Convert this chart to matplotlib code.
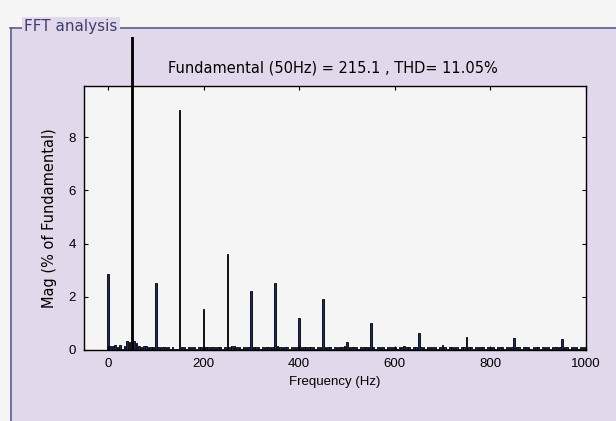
import numpy as np
import matplotlib
matplotlib.use('Agg')
from matplotlib import pyplot
from matplotlib.patches import Rectangle
from matplotlib.lines import Line2D
from matplotlib.transforms import Bbox, TransformedBbox

pyplot.rcParams['font.family'] = ['Liberation Sans', 'DejaVu Sans']

# spectrum bins, 5 Hz resolution, one row per 50 Hz
freq_step = 5
mag = [
    2.85, 0.15, 0.15, 0.2, 0.1, 0.2, 0.05, 0.15, 0.35, 0.3,      # 0
    100.0, 0.35, 0.25, 0.15, 0.1, 0.15, 0.15, 0.1, 0.1, 0.1,     # 50
    2.5, 0.1, 0.1, 0.1, 0.1, 0.1, 0.05, 0.1, 0.05, 0.05,         # 100
    9.0, 0.1, 0.1, 0.05, 0.1, 0.1, 0.1, 0.05, 0.1, 0.1,          # 150
    1.55, 0.1, 0.1, 0.1, 0.1, 0.1, 0.1, 0.1, 0.05, 0.1,          # 200
    3.6, 0.1, 0.15, 0.15, 0.1, 0.1, 0.05, 0.1, 0.1, 0.1,         # 250
    2.2, 0.1, 0.1, 0.1, 0.05, 0.1, 0.1, 0.1, 0.1, 0.1,           # 300
    2.5, 0.15, 0.1, 0.1, 0.1, 0.1, 0.05, 0.1, 0.1, 0.1,          # 350
    1.2, 0.1, 0.1, 0.1, 0.1, 0.1, 0.1, 0.05, 0.1, 0.1,           # 400
    1.9, 0.1, 0.1, 0.1, 0.05, 0.1, 0.1, 0.1, 0.1, 0.15,          # 450
    0.3, 0.1, 0.1, 0.1, 0.1, 0.05, 0.1, 0.1, 0.1, 0.1,           # 500
    1.0, 0.1, 0.05, 0.1, 0.1, 0.1, 0.05, 0.1, 0.1, 0.1,          # 550
    0.1, 0.05, 0.1, 0.1, 0.15, 0.1, 0.1, 0.05, 0.1, 0.1,         # 600
    0.65, 0.1, 0.1, 0.05, 0.1, 0.1, 0.1, 0.1, 0.05, 0.1,         # 650
    0.2, 0.1, 0.05, 0.1, 0.1, 0.1, 0.1, 0.05, 0.1, 0.1,          # 700
    0.5, 0.1, 0.1, 0.05, 0.1, 0.1, 0.1, 0.1, 0.05, 0.1,          # 750
    0.1, 0.1, 0.05, 0.1, 0.1, 0.1, 0.05, 0.1, 0.1, 0.1,          # 800
    0.45, 0.1, 0.1, 0.05, 0.1, 0.1, 0.1, 0.05, 0.1, 0.1,         # 850
    0.1, 0.05, 0.1, 0.1, 0.1, 0.05, 0.1, 0.1, 0.1, 0.1,          # 900
    0.4, 0.1, 0.1, 0.05, 0.1, 0.1, 0.1, 0.05, 0.1, 0.1,          # 950
    0.1,                                                          # 1000
]
freqs = np.arange(len(mag)) * freq_step
fund_freq = 50
title_str = 'Fundamental (50Hz) = 215.1 , THD= 11.05%'
xticks = [0, 200, 400, 600, 800, 1000]
yticks = [0, 2, 4, 6, 8]

panel_col = '#e1d9eb'
border_col = '#5b5f8c'

fig = pyplot.figure(figsize=(6.16, 4.21), dpi=100)
fig.patch.set_facecolor('#f5f5f5')

# panel background + frame
H = 421.0
W = 616.0
fig.patches.append(Rectangle((10 / W, 0), 1, (H - 28) / H, transform=fig.transFigure,
                             facecolor=panel_col, edgecolor='none', zorder=-10))
fig.lines.append(Line2D([10 / W, 1], [(H - 28) / H] * 2, transform=fig.transFigure,
                        color=border_col, lw=1.2, zorder=-5))
fig.lines.append(Line2D([11 / W, 11 / W], [0, (H - 28) / H], transform=fig.transFigure,
                        color=border_col, lw=1.2, zorder=-5))
fig.text(24 / W, (H - 27) / H, 'FFT analysis', fontsize=11, color='#3c3f6e',
         family='DejaVu Sans', va='center', ha='left', zorder=-4,
         bbox=dict(facecolor=panel_col, edgecolor='none', pad=1.5))

ax = fig.add_axes([84 / W, (H - 350) / H, 502 / W, 264 / H])
ax.set_facecolor('#f5f5f5')

colors = ['#000000' if f == fund_freq else '#1b2a6b' for f in freqs]
bars = ax.bar(freqs, mag, width=3.5, color=colors, edgecolor='black', linewidth=0.6)

# fundamental bar runs past the axes, cut at the panel top
clip = TransformedBbox(Bbox([[0, 0], [1, (H - 37) / H]]), fig.transFigure)
for b, f in zip(bars, freqs):
    if f == fund_freq:
        b.set_width(5)
        b.set_x(f - 2.5)
        b.set_clip_box(clip)

ax.set_xlim(-50, 1000)
ax.set_ylim(0, 9.92)
ax.set_xticks(xticks)
ax.set_yticks(yticks)
ax.tick_params(direction='in', top=True, right=True, length=3, width=0.8,
               labelsize=9.5)
ax.tick_params(axis='x', pad=6)
ax.tick_params(axis='y', pad=6)
for s in ax.spines.values():
    s.set_linewidth(1.0)
ax.set_title(title_str, fontsize=10.5, family='DejaVu Sans', pad=10, x=0.495)
ax.set_xlabel('Frequency (Hz)', fontsize=9.5, labelpad=4)
ax.set_ylabel('Mag (% of Fundamental)', fontsize=10.5, family='DejaVu Sans',
              labelpad=8)

fig.savefig('out.png', dpi=100, facecolor=fig.get_facecolor())
